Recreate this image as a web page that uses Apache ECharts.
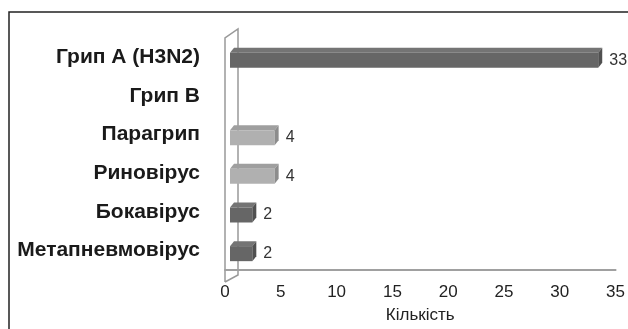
<!DOCTYPE html>
<html>
<head>
<meta charset="utf-8">
<script src="https://cdn.jsdelivr.net/npm/echarts@6/dist/echarts.min.js"></script>
<style>
html,body{margin:0;padding:0;background:#fff;}
#chart{width:628px;height:329px;}
</style>
</head>
<body>
<div id="chart"></div>
<script>
// категорії і значення
var categories = ['Грип A (H3N2)', 'Грип B', 'Парагрип', 'Риновірус', 'Бокавірус', 'Метапневмовірус'];
var counts = [33, 0, 4, 4, 2, 2];
var xTicks = [0, 5, 10, 15, 20, 25, 30, 35];
var axisName = 'Кількість';
var lightBars = ['Парагрип', 'Риновірус'];

var font = "'Liberation Sans', Arial, sans-serif";
var DX = 4, DY = -5;      // глибина 3D бруска
var FACE_H = 15;

var chart = echarts.init(document.getElementById('chart'));

function renderBar(params, api) {
	var idx = api.value(1);
	var val = api.value(0);
	if (!val) return null;
	var p0 = api.coord([0, idx]);
	var p1 = api.coord([val, idx]);
	var x0 = p0[0] + 5, x1 = p1[0] + 5;
	var yTop = p0[1] + 3 - FACE_H / 2, yBot = yTop + FACE_H;
	var light = lightBars.indexOf(categories[idx]) >= 0;
	var cFront = light ? '#b0b0b0' : '#666666';
	var cTop = light ? '#9f9f9f' : '#747474';
	var cSide = light ? '#8c8c8c' : '#505050';
	return {
		type: 'group',
		children: [
			{type: 'polygon', shape: {points: [[x0, yTop], [x1, yTop], [x1 + DX, yTop + DY], [x0 + DX, yTop + DY]]}, style: {fill: cTop}},
			{type: 'rect', shape: {x: x0, y: yTop, width: x1 - x0, height: FACE_H}, style: {fill: cFront}},
			{type: 'polygon', shape: {points: [[x1, yTop], [x1 + DX, yTop + DY], [x1 + DX, yBot + DY], [x1, yBot]]}, style: {fill: cSide}},
			{type: 'text', x: x1 + DX + 7, y: (yTop + yBot) / 2, style: {text: String(val), fill: '#333', font: '16px ' + font, verticalAlign: 'middle'}}
		]
	};
}

var option = {
	animation: false,
	grid: {left: 225, right: 12, top: 38, bottom: 47},
	xAxis: {
		type: 'value',
		min: xTicks[0],
		max: xTicks[xTicks.length - 1],
		interval: xTicks[1] - xTicks[0],
		name: axisName,
		nameLocation: 'middle',
		nameGap: 37,
		nameTextStyle: {fontFamily: font, fontSize: 17, color: '#222'},
		axisLine: {show: true, lineStyle: {color: '#a0a0a0', width: 2}},
		axisTick: {show: false},
		splitLine: {show: false},
		axisLabel: {fontFamily: font, fontSize: 17, color: '#222', margin: 14}
	},
	yAxis: {
		type: 'category',
		inverse: true,
		data: categories,
		axisLine: {show: false},
		axisTick: {show: false},
		axisLabel: {fontFamily: font, fontSize: 21, fontWeight: 'bold', color: '#1a1a1a', margin: 25}
	},
	series: [{
		type: 'custom',
		renderItem: renderBar,
		encode: {x: 0, y: 1},
		data: counts.map(function (v, i) { return [v, i]; })
	}]
};
chart.setOption(option);

// рамка та стінка
var zx = chart.convertToPixel({xAxisIndex: 0}, 0);
var gTop = 38, gBot = 329 - 47;
chart.setOption({
	graphic: [
		{type: 'rect', z: 0, shape: {x: 9, y: 12, width: 800, height: 500}, style: {fill: 'none', stroke: '#222', lineWidth: 1.5}},
		{type: 'polyline', z: 0, shape: {points: [[zx, gBot], [zx, gTop], [zx + 13, gTop - 9], [zx + 13, gBot - 7], [zx, gBot]]}, style: {fill: 'none', stroke: '#999', lineWidth: 1.5}}
	]
});
</script>
</body>
</html>
